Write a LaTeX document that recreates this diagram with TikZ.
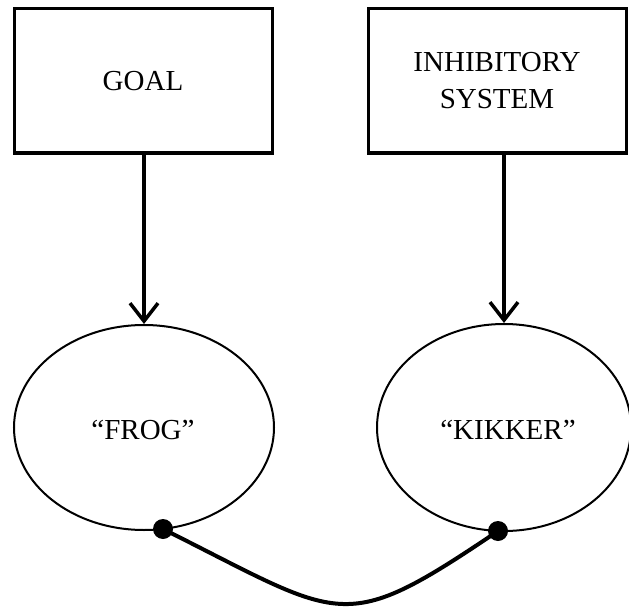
\documentclass[tikz,border=0pt]{standalone}
\usepackage{fontspec}
\setmainfont{Liberation Serif}
\usetikzlibrary{shapes.geometric,arrows.meta}
\begin{document}
\begin{tikzpicture}[x=1pt,y=-1pt,
  labeltext/.style={font=\fontsize{29}{37}\selectfont, align=center},
  boxnode/.style={draw, line width=3pt, minimum width=258pt, minimum height=144pt, inner sep=0pt, labeltext},
  wordnode/.style={draw, ellipse, line width=2pt, inner sep=0pt},
  feed/.style={line width=3.8pt, -{Straight Barb[length=18pt,width=28pt,line width=3.5pt]}},
  junction/.style={circle, fill=black, inner sep=0pt, minimum size=20pt},
  link/.style={line width=4pt}]
  \useasboundingbox (0,0) rectangle (629,607);

  % control boxes
  \node[boxnode] (goal) at (143,81) {GOAL};
  \node[boxnode] (inhib) at (497,81) {INHIBITORY\\SYSTEM};

  % word nodes
  \node[wordnode, minimum width=260pt, minimum height=205pt] (frog) at (144,427.5) {};
  \node[wordnode, minimum width=254pt, minimum height=207pt] (kikker) at (504,427.5) {};
  \node[labeltext] (frogtext) at (143,430) {``FROG''};
  \node[labeltext] (kikkertext) at (508,430) {``KIKKER''};

  % arrows from the boxes
  \draw[feed] (frog.north |- goal.south) -- (frog.north);
  \draw[feed] (kikker.north |- inhib.south) -- (kikker.north);

  % junction dots and the link between them
  \node[junction] (dotl) at (163,529) {};
  \node[junction] (dotr) at (498,531) {};
  \draw[link] (dotl.center) .. controls (345,620) and (341,637) .. (dotr.center);
\end{tikzpicture}
\end{document}
